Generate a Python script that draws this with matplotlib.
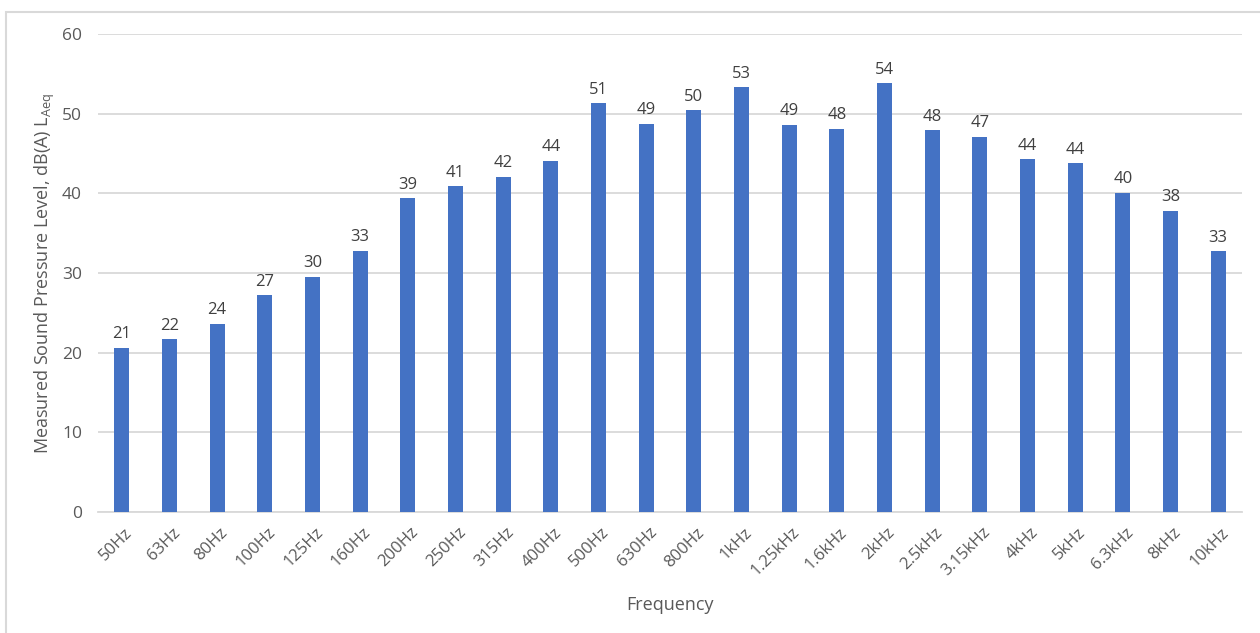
import matplotlib
matplotlib.use("Agg")
import matplotlib.pyplot as plt
from matplotlib.patches import Rectangle
import numpy as np

plt.rcParams['font.family'] = ['Open Sans', 'DejaVu Sans']
plt.rcParams['mathtext.default'] = 'regular'

bands = ["50Hz", "63Hz", "80Hz", "100Hz", "125Hz", "160Hz", "200Hz", "250Hz",
         "315Hz", "400Hz", "500Hz", "630Hz", "800Hz", "1kHz", "1.25kHz", "1.6kHz",
         "2kHz", "2.5kHz", "3.15kHz", "4kHz", "5kHz", "6.3kHz", "8kHz", "10kHz"]
laeq = [20.6, 21.7, 23.6, 27.2, 29.5, 32.8, 39.4, 40.9,
        42.1, 44.1, 51.3, 48.7, 50.4, 53.3, 48.6, 48.1,
        53.8, 47.9, 47.1, 44.3, 43.8, 40.1, 37.8, 32.7]

BAR_COLOR = "#4472C4"
GRID_COLOR = "#D9D9D9"
TEXT_COLOR = "#595959"

fig = plt.figure(figsize=(12.6, 6.33), dpi=100)
# outer chart border (open at right/bottom like the cropped screenshot)
fig.patches.append(Rectangle((6 / 1260, -0.1), 1.2, 1 - 12 / 633 + 0.1,
                             transform=fig.transFigure, fill=False,
                             edgecolor=GRID_COLOR, linewidth=1.5))

ax = fig.add_axes([98 / 1260, 1 - 512 / 633, (1242 - 98) / 1260, (512 - 34) / 633])
x = np.arange(len(bands))
bars = ax.bar(x, laeq, width=0.31, color=BAR_COLOR, zorder=3)

for xi, v in zip(x, laeq):
    ax.annotate("{:.0f}".format(v), (xi, v), xytext=(0, 4), textcoords="offset points",
                ha="center", va="bottom", fontsize=12, color="#404040")

ax.set_xlim(-0.5, len(bands) - 0.5)
ax.set_ylim(0, 60)
ax.set_yticks(range(0, 61, 10))
ax.yaxis.grid(True, color=GRID_COLOR, linewidth=1.3, zorder=0)
ax.set_xticks(x + 0.05)
ax.set_xticklabels(bands, rotation=45, ha="right", va="top", rotation_mode="anchor",
                   fontsize=12, color=TEXT_COLOR)
ax.tick_params(axis="x", length=0, pad=9)
ax.tick_params(axis="y", length=0, pad=11.5, labelsize=12.5, labelcolor=TEXT_COLOR)
for side in ("top", "right", "left"):
    ax.spines[side].set_visible(False)
ax.spines["bottom"].set_color(GRID_COLOR)
ax.spines["bottom"].set_linewidth(1.3)

ax.set_ylabel("Measured Sound Pressure Level, dB(A) L$_{Aeq}$", fontsize=13,
              color=TEXT_COLOR)
ax.yaxis.set_label_coords(-0.036, 0.5)
ax.set_xlabel("Frequency", fontsize=13, color=TEXT_COLOR, labelpad=12)

fig.savefig("out.png", dpi=100)
